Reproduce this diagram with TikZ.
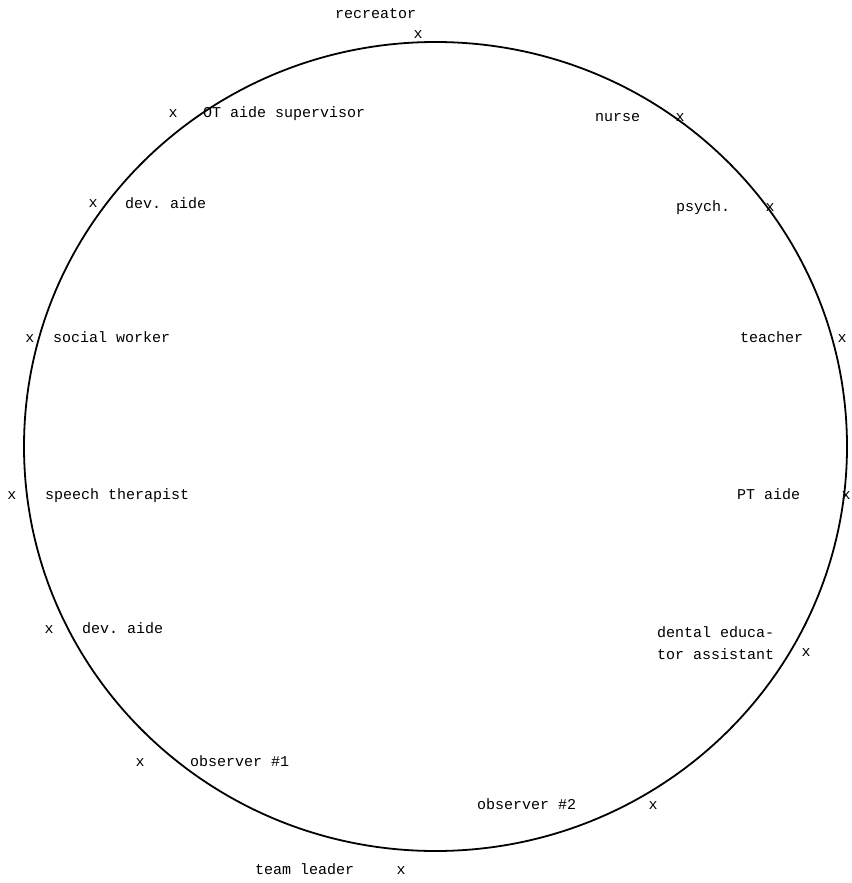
\documentclass[tikz,border=0pt]{standalone}
\usepackage{fontspec}
\setmonofont{Liberation Mono}
\begin{document}
\begin{tikzpicture}[x=1pt,y=-1pt,
  txt/.style={font=\ttfamily\fontsize{15}{22}\selectfont, inner sep=0pt, yshift=-2.5pt},
  lbl/.style={txt, anchor=mid west},
  mk/.style={txt, anchor=mid},
  ring/.style={line width=1.8pt}]
\useasboundingbox (0,0) rectangle (851,883);
\draw[ring] (435.5,446.5) ellipse [x radius=411.5, y radius=404.5];
% labels
\node[lbl] (recreator) at (335,14) {recreator};
\node[lbl] (otaide) at (203,113) {OT aide supervisor};
\node[lbl] (nurse) at (595,117) {nurse};
\node[lbl] (psych) at (676,207) {psych.};
\node[lbl] (devaide1) at (125,204) {dev. aide};
\node[lbl] (social) at (53,338) {social worker};
\node[lbl] (teacher) at (740,338) {teacher};
\node[lbl] (speech) at (45,495) {speech therapist};
\node[lbl] (ptaide) at (737,495) {PT aide};
\node[lbl] (devaide2) at (82,629) {dev. aide};
\node[txt, anchor=west, align=left] (dental) at (657,641) {dental educa-\\tor assistant};
\node[lbl] (obs1) at (190,762) {observer \#1};
\node[lbl] (obs2) at (477,805) {observer \#2};
\node[lbl] (leader) at (255,870) {team leader};
% markers
\node[mk] (xrecreator) at (418,34) {x};
\node[mk] (xotaide) at (173,113) {x};
\node[mk] (xnurse) at (680,117) {x};
\node[mk] (xpsych) at (770,207) {x};
\node[mk] (xdevaide1) at (93,203) {x};
\node[mk] (xsocial) at (30,338) {x};
\node[mk] (xteacher) at (842,338) {x};
\node[mk] (xspeech) at (12,495) {x};
\node[mk] (xptaide) at (846,495) {x};
\node[mk] (xdevaide2) at (49,629) {x};
\node[mk] (xdental) at (806,652) {x};
\node[mk] (xobs1) at (140,762) {x};
\node[mk] (xobs2) at (653,805) {x};
\node[mk] (xleader) at (401,870) {x};
\end{tikzpicture}
\end{document}
